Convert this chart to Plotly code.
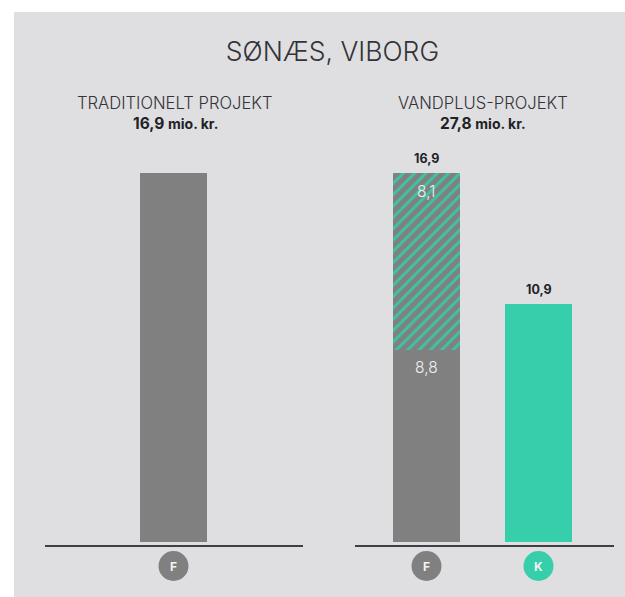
import plotly.graph_objects as go

# --- data ---
title = "SØNÆS, VIBORG"
project_names = ["TRADITIONELT PROJEKT", "VANDPLUS-PROJEKT"]
project_totals = ["16,9", "27,8"]
total_unit = "mio. kr."
trad_cats = ["F"]
trad_values = [16.9]
vand_cats = ["F", "K"]
vand_base = [8.8, 10.9]
vand_hatched = [8.1, None]
inner_cats = ["F", "F"]
inner_tops = [16.9, 8.8]
inner_labels = ["8,1", "8,8"]
vand_top_values = [16.9, 10.9]
vand_top_labels = ["16,9", "10,9"]

# --- style ---
W, H = 625, 597
GRAY, GREEN, PANEL, INK = "#808080", "#36CEAB", "#DFDFE1", "#333338"
DARK = "#222226"
FONT = "Inter"
PX_PER_UNIT = 21.83
BASE_Y, TOP_Y = 545, 165
Y_RANGE = [-3 / PX_PER_UNIT, (BASE_Y - 3 - TOP_Y) / PX_PER_UNIT]

def px(x):
    return x / W

def py(y):
    return 1 - y / H

fig = go.Figure()
fig.add_bar(x=trad_cats, y=trad_values, marker_color=GRAY, width=67 / 258.5,
            xaxis="x", yaxis="y", marker_line_width=0)
fig.add_bar(x=vand_cats, y=vand_base, marker_color=[GRAY, GREEN], width=67 / 112,
            xaxis="x2", yaxis="y2", marker_line_width=0)
fig.add_bar(x=vand_cats, y=vand_hatched, width=67 / 112, xaxis="x2", yaxis="y2",
            marker=dict(color=GRAY, line_width=0,
                        pattern=dict(shape="/", fgcolor="#3CC4A4", bgcolor=GRAY,
                                     size=8, solidity=0.36, fillmode="replace")))

annotations = []
for cat, val, lab in zip(vand_cats, vand_top_values, vand_top_labels):
    annotations.append(dict(x=cat, y=val, xref="x2", yref="y2", text=f"<b>{lab}</b>",
                            showarrow=False, yanchor="bottom", yshift=5,
                            font=dict(size=12.5, color=DARK, family=FONT)))
for cat, val, lab in zip(inner_cats, inner_tops, inner_labels):
    annotations.append(dict(x=cat, y=val, xref="x2", yref="y2", text=lab,
                            showarrow=False, yanchor="middle", yshift=-18,
                            font=dict(size=15.5, color="#F0F0F0", family=FONT, weight=300)))
for cx, name, total in zip([175, 483], project_names, project_totals):
    annotations.append(dict(x=px(cx), y=py(103), xref="paper", yref="paper", text=name,
                            xanchor="center", yanchor="middle", showarrow=False,
                            font=dict(size=16.6, color=INK, family=FONT, weight=300)))
    annotations.append(dict(x=px(cx), y=py(124), xref="paper", yref="paper",
                            text=f"<b>{total} <span style='font-size:14px'>{total_unit}</span></b>",
                            xanchor="center", yanchor="middle", showarrow=False,
                            font=dict(size=15.5, color=DARK, family=FONT)))

shapes = [dict(type="rect", xref="paper", yref="paper", x0=px(14), x1=1, y0=0, y1=py(12),
               fillcolor=PANEL, line_width=0, layer="below")]
badges = [("x", "y domain", trad_cats[0], GRAY), ("x2", "y2 domain", vand_cats[0], GRAY),
          ("x2", "y2 domain", vand_cats[1], GREEN)]
for xr, yr, cat, col in badges:
    shapes.append(dict(type="circle", xref=xr, yref=yr, xsizemode="pixel", ysizemode="pixel",
                       xanchor=cat, yanchor=0, x0=-15, x1=15, y0=-36, y1=-6,
                       fillcolor=col, line_width=0))
    annotations.append(dict(x=cat, y=0, xref=xr, yref=yr,
                            text=f"<b>{cat}</b>", showarrow=False,
                            yanchor="middle", yshift=-21,
                            font=dict(size=12, color="#F2F2F2", family=FONT)))

axis = dict(showgrid=False, zeroline=False, showticklabels=False, ticks="",
            showline=True, linecolor="#404044", linewidth=2, type="category", fixedrange=True)
yaxis = dict(visible=False, range=Y_RANGE, fixedrange=True)

fig.update_layout(
    width=W, height=H, margin=dict(l=0, r=0, t=0, b=0), autosize=False,
    paper_bgcolor="#FFFFFF", plot_bgcolor="rgba(0,0,0,0)", showlegend=False, barmode="stack",
    title=dict(text=title, x=px(332.5), y=py(52), xanchor="center", yanchor="middle",
               font=dict(size=26.5, color=INK, family=FONT, weight=300)),
    xaxis=dict(axis, domain=[px(44.5), px(303)], range=[-(173.5 - 44.5) / 258.5, (303 - 173.5) / 258.5], anchor="y"),
    yaxis=dict(yaxis, domain=[py(BASE_Y), py(TOP_Y)], anchor="x"),
    xaxis2=dict(axis, domain=[px(355), px(613.5)], range=[-(426.5 - 355) / 112, 1 + (613.5 - 538.5) / 112], anchor="y2"),
    yaxis2=dict(yaxis, domain=[py(BASE_Y), py(TOP_Y)], anchor="x2"),
    annotations=annotations, shapes=shapes,
)
fig.write_html("out.html", config=dict(displayModeBar=False),
               post_script="document.body.style.margin='0';document.body.style.overflow='hidden';")
